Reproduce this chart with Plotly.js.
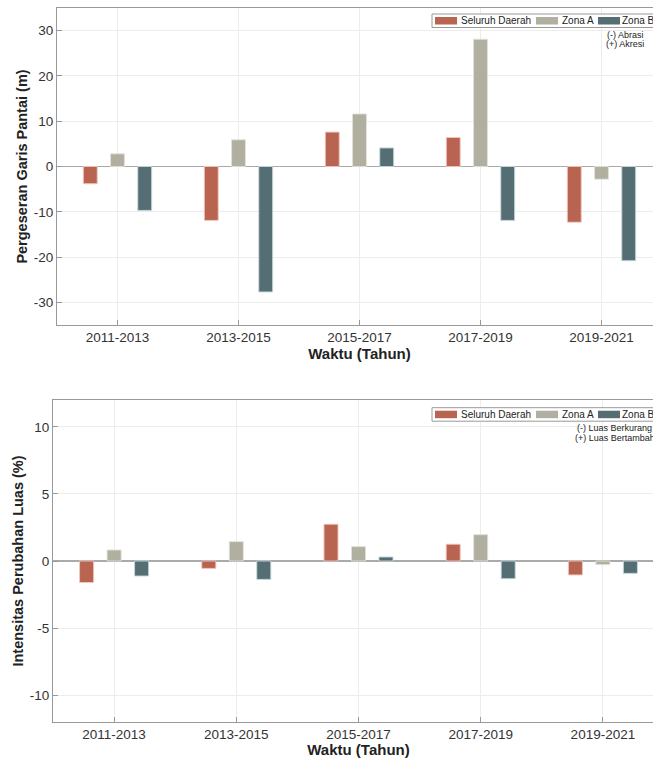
<!DOCTYPE html>
<html>
<head>
<meta charset="utf-8">
<script src="https://cdn.plot.ly/plotly-3.0.1.min.js"></script>
<style>
  html, body { margin: 0; padding: 0; overflow: hidden; background: #fff; }
  #c1, #c2 { display: block; }
</style>
</head>
<body>
<div id="c1"></div>
<div id="c2"></div>
<script>
const categories = ["2011-2013", "2013-2015", "2015-2017", "2017-2019", "2019-2021"];
const seriesNames = ["Seluruh Daerah", "Zona A", "Zona B"];

// Pergeseran Garis Pantai (m)
const shiftSeluruh = [-3.8, -11.9, 7.6, 6.4, -12.3];
const shiftZonaA   = [2.8, 5.9, 11.6, 28.1, -2.8];
const shiftZonaB   = [-9.7, -27.7, 4.1, -11.9, -20.8];
const shiftTickVals = [-30, -20, -10, 0, 10, 20, 30];
const shiftTickText = ["-30", "-20", "-10", "0", "10", "20", "30"];

// Intensitas Perubahan Luas (%)
const areaSeluruh = [-1.6, -0.55, 2.74, 1.25, -1.04];
const areaZonaA   = [0.82, 1.44, 1.07, 1.96, -0.27];
const areaZonaB   = [-1.12, -1.37, 0.3, -1.32, -0.92];
const areaTickVals = [-10, -5, 0, 5, 10];
const areaTickText = ["-10", "-5", "0", "5", "10"];

const notesShift = ["(-) Abrasi", "(+) Akresi"];
const notesArea  = ["(-) Luas Berkurang", "(+) Luas Bertambah"];

const colors = ["#B86450", "#B0AFA0", "#556E73"];
const lineColors = ["rgba(240,200,190,0.9)", "rgba(225,225,215,0.9)", "rgba(200,215,218,0.9)"];
const FONT = "Liberation Sans, Arial, Helvetica, sans-serif";

function traces(vals) {
  return vals.map((v, i) => ({
    type: "bar",
    name: seriesNames[i],
    x: categories,
    y: v,
    marker: { color: colors[i], line: { color: lineColors[i], width: 1 } },
    showlegend: false,
    hoverinfo: "x+y+name"
  }));
}

// Legend drawn as shapes + annotations (pixel geometry relative to the figure)
function legendItems(g, top) {
  const px = x => (x - g.l) / g.pw;
  const py = y => 1 - (y - g.t) / g.ph;
  const shapes = [{
    type: "rect", xref: "paper", yref: "paper", layer: "above",
    x0: px(432), x1: px(720), y0: py(top), y1: py(top + 13.5),
    fillcolor: "#fff", line: { color: "#999", width: 1 }
  }];
  const annotations = [];
  const swX = [435, 536, 598];
  const txX = [460, 560.5, 621];
  seriesNames.forEach((name, i) => {
    shapes.push({
      type: "rect", xref: "paper", yref: "paper", layer: "above",
      x0: px(swX[i]), x1: px(swX[i] + 22), y0: py(top + 3), y1: py(top + 10.5),
      fillcolor: colors[i], line: { width: 0 }
    });
    annotations.push({
      xref: "paper", yref: "paper", x: px(txX[i]), y: py(top + 6.8),
      xanchor: "left", yanchor: "middle", showarrow: false,
      text: name, font: { family: FONT, size: 10, color: "#222" },
      borderpad: 0
    });
  });
  return { shapes, annotations, px, py };
}

function buildLayout(opts) {
  const g = opts.geom;
  const leg = legendItems(g, opts.legendTop);
  const notes = opts.notes.map((t, i) => ({
    xref: "paper", yref: "paper",
    x: leg.px(opts.noteX[i]), y: leg.py(opts.noteY[i]),
    xanchor: opts.noteAnchor, yanchor: "middle", showarrow: false,
    text: t, font: { family: FONT, size: 9, color: "#222" }, borderpad: 0
  }));
  return {
    width: g.l + g.pw + g.r,
    height: g.t + g.ph + g.b,
    margin: { l: g.l, r: g.r, t: g.t, b: g.b, autoexpand: false },
    paper_bgcolor: "#fff",
    plot_bgcolor: "#fff",
    font: { family: FONT, size: 13.5, color: "#333" },
    barmode: "group",
    bargap: 0.325,
    bargroupgap: 0.49,
    showlegend: false,
    xaxis: {
      type: "category",
      range: [-0.5, 4.5],
      showline: true, mirror: true, linecolor: "#999", linewidth: 1,
      ticks: "inside", ticklen: 5, tickcolor: "#999",
      showgrid: true, gridcolor: "#ececec", gridwidth: 1,
      tickfont: { family: FONT, size: 13.5, color: "#333" },
      title: { text: "<b>Waktu (Tahun)</b>", font: { family: FONT, size: 15, color: "#222" }, standoff: 1 },
      fixedrange: true
    },
    yaxis: {
      range: opts.yrange,
      tickmode: "array",
      tickvals: opts.tickvals,
      ticktext: opts.ticktext,
      showline: true, mirror: true, linecolor: "#999", linewidth: 1,
      ticks: "inside", ticklen: 5, tickcolor: "#999",
      showgrid: true, gridcolor: "#ececec", gridwidth: 1,
      zeroline: true, zerolinecolor: "#aaa", zerolinewidth: 1.5,
      tickfont: { family: FONT, size: 13.5, color: "#333" },
      title: { text: "<b>" + opts.ytitle + "</b>", font: { family: FONT, size: 14.5, color: "#222" }, standoff: 2 },
      fixedrange: true
    },
    shapes: leg.shapes,
    annotations: leg.annotations.concat(notes)
  };
}

Plotly.newPlot("c1", traces([shiftSeluruh, shiftZonaA, shiftZonaB]), buildLayout({
  geom: { l: 57, r: 3, t: 8, b: 55, pw: 605, ph: 317 },
  yrange: [-35, 35], tickvals: shiftTickVals, ticktext: shiftTickText,
  ytitle: "Pergeseran Garis Pantai (m)",
  legendTop: 14,
  notes: notesShift, noteX: [645, 645], noteY: [35, 44.5], noteAnchor: "right"
}), { staticPlot: true });

Plotly.newPlot("c2", traces([areaSeluruh, areaZonaA, areaZonaB]), buildLayout({
  geom: { l: 53, r: 3, t: 20, b: 36, pw: 611, ph: 322 },
  yrange: [-12, 12], tickvals: areaTickVals, ticktext: areaTickText,
  ytitle: "Intensitas Perubahan Luas (%)",
  legendTop: 27.7,
  notes: notesArea, noteX: [575.7, 574], noteY: [48.3, 57.7], noteAnchor: "left"
}), { staticPlot: true });
</script>
</body>
</html>
